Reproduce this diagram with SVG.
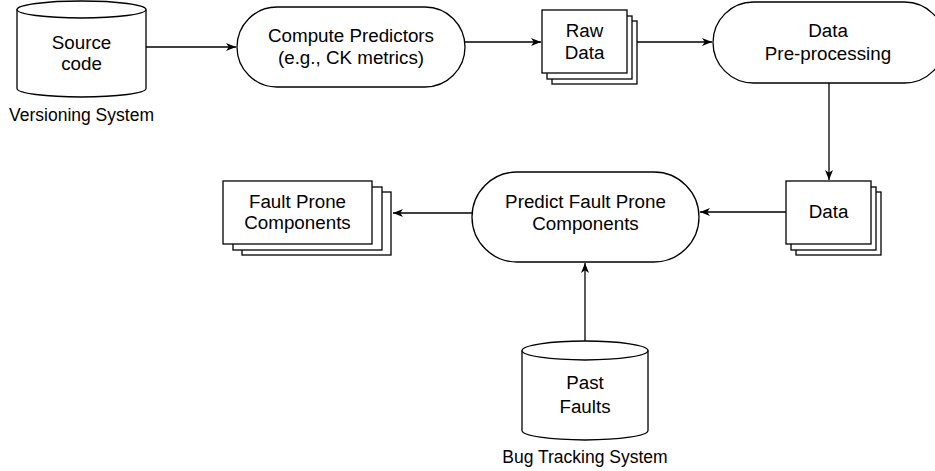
<svg xmlns="http://www.w3.org/2000/svg" width="935" height="471" viewBox="0 0 935 471">
<style>
.s{fill:#fff;stroke:#000;stroke-width:1.3}
.e{fill:none;stroke:#000;stroke-width:1.3}
text{font-family:"Liberation Sans",Arial,Helvetica,sans-serif;font-size:18.8px;fill:#000;text-anchor:middle}
text.lbl{font-size:17.5px}
</style>
<defs>
<marker id="ah" markerWidth="11" markerHeight="9" refX="10" refY="4.5" orient="auto" markerUnits="userSpaceOnUse">
<path d="M0,0.5 L10,4.5 L0,8.5 L2.8,4.5 z" fill="#000"/>
</marker>
</defs>
<g id="connectors">
<line class="e" x1="146" y1="47" x2="236" y2="47" marker-end="url(#ah)"/>
<line class="e" x1="465" y1="42" x2="541" y2="42" marker-end="url(#ah)"/>
<line class="e" x1="637" y1="42" x2="712" y2="42" marker-end="url(#ah)"/>
<line class="e" x1="829" y1="83" x2="829" y2="180" marker-end="url(#ah)"/>
<line class="e" x1="786" y1="212" x2="700" y2="212" marker-end="url(#ah)"/>
<line class="e" x1="472" y1="213" x2="393" y2="213" marker-end="url(#ah)"/>
<line class="e" x1="585" y1="341" x2="585" y2="263" marker-end="url(#ah)"/>
</g>
<g id="source-code">
<path class="s" d="M17,9.5 A64.5,8.5 0 0 1 146,9.5 L146,88.5 A64.5,8.5 0 0 1 17,88.5 Z"/>
<path class="e" d="M17,9.5 A64.5,8.5 0 0 0 146,9.5"/>
<text x="81.5" y="49">Source</text>
<text x="81.5" y="70">code</text>
<text class="lbl" x="81.5" y="121">Versioning System</text>
</g>
<g id="compute-predictors">
<rect class="s" x="237" y="7" width="228" height="80" rx="40" ry="40"/>
<text x="351" y="42">Compute Predictors</text>
<text x="351" y="64">(e.g., CK metrics)</text>
</g>
<g id="raw-data">
<rect class="s" x="552" y="21" width="85" height="63"/>
<rect class="s" x="547" y="16" width="85" height="63"/>
<rect class="s" x="542" y="10" width="85" height="63"/>
<text x="584.5" y="37">Raw</text>
<text x="584.5" y="59">Data</text>
</g>
<g id="data-preprocessing">
<rect class="s" x="713" y="2" width="232" height="81" rx="40.5" ry="40.5"/>
<text x="828" y="37">Data</text>
<text x="828" y="60">Pre-processing</text>
</g>
<g id="data">
<rect class="s" x="796" y="192" width="85" height="63"/>
<rect class="s" x="791" y="187" width="85" height="63"/>
<rect class="s" x="786" y="181" width="85" height="63"/>
<text x="828.5" y="218">Data</text>
</g>
<g id="predict">
<rect class="s" x="472" y="172" width="227" height="90" rx="45" ry="45"/>
<text x="585.5" y="208">Predict Fault Prone</text>
<text x="585.5" y="230">Components</text>
</g>
<g id="fault-prone-components">
<rect class="s" x="242" y="192" width="149" height="63"/>
<rect class="s" x="233" y="187" width="149" height="63"/>
<rect class="s" x="223" y="181" width="149" height="63"/>
<text x="297.5" y="208">Fault Prone</text>
<text x="297.5" y="229">Components</text>
</g>
<g id="past-faults">
<path class="s" d="M522,350.5 A63,9.5 0 0 1 648,350.5 L648,430.5 A63,9.5 0 0 1 522,430.5 Z"/>
<path class="e" d="M522,350.5 A63,9.5 0 0 0 648,350.5"/>
<text x="585" y="389">Past</text>
<text x="585" y="413">Faults</text>
<text class="lbl" x="585" y="463">Bug Tracking System</text>
</g>
</svg>
